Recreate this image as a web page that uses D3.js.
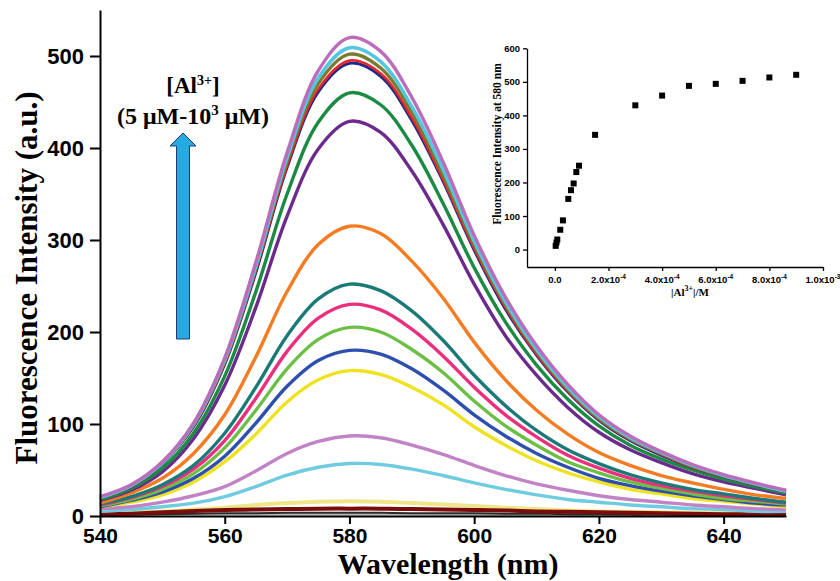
<!DOCTYPE html>
<html><head><meta charset="utf-8">
<script src="https://cdn.jsdelivr.net/npm/d3@7/dist/d3.min.js"></script>
<style>
html,body{margin:0;padding:0;background:#fff;}
svg{display:block;}
</style></head>
<body>
<svg id="chart" width="840" height="581"></svg>
<script>
// ---------- main chart data ----------
const wavelengths = [540,545,550,555,560,565,570,575,580,585,590,595,600,605,610,615,620,625,630,635,640,645,650];

const s520 = [21,34,59,101,172,276,395,484,520,505,455,385,305,238,185,143,110,87,70,56,45,36,28];
const s509 = [20,33,58,100,170,272,390,476,509,494,445,377,299,233,181,140,108,85,69,55,44,35,27];
const s502 = [20,33,58,99,168,270,386,470,502,487,439,371,295,230,179,138,106,84,68,54,44,35,27];
const s495 = [20,32,57,98,166,267,381,464,495,481,433,366,291,227,176,136,105,83,67,53,43,34,27];
const s492 = [20,32,57,97,165,265,379,461,492,478,430,364,289,225,175,135,104,82,66,53,43,34,27];
const s460 = [18,30,52,90,152,244,350,428,460,447,403,340,270,211,164,127,98,77,62,50,40,32,25];
const s429 = [17,28,48,84,142,227,326,399,429,417,375,317,252,196,153,118,91,72,58,46,37,30,23];
const s315 = [14,25,41,68,110,173,244,295,315,307,277,237,189,148,115,89,69,55,44,36,29,23,19];
const s252 = [13,21,34,55,90,140,196,236,252,245,223,191,153,120,93,72,57,45,36,29,24,19,15];
const s230 = [12,20,32,51,82,128,179,215,230,224,203,174,140,110,86,66,52,41,33,27,22,18,14];
const s205 = [11,18,29,46,74,115,160,192,205,200,181,156,125,98,77,59,47,37,30,24,19,16,13];
const s180 = [10,17,26,41,65,101,141,169,180,176,160,137,110,87,68,53,41,33,27,22,18,14,12];
const s158 = [10,15,23,37,59,89,124,148,158,154,140,121,97,77,60,47,37,29,24,19,16,13,10];
const s87  = [8,10,15,22,32,49,68,81,87,85,77,67,55,44,35,28,22,18,15,12,10,8,7];
const s57  = [5,7,10,14,21,32,44.5,53,57,56,51,44,36,29,23,18,15,12,10,8,7,5,5];
const s15  = [3,4,5,7,9,12,14,15.5,16,15.5,14,12.5,11,9,7.5,6,5,4.5,4,3.5,3,2.5,2.5];
const s8   = [1.5,2.5,4,5.5,6.5,7,7.5,8,8,8,7.5,7,6.5,6,5,4.5,4,3.5,3,2.5,2,2,1.5];
const s3   = [1,1.5,2,2.5,3,3,3.5,3.5,3.5,3.5,3,3,3,2.5,2.5,2,2,1.5,1.5,1,1,1,1];
const s1   = [2,1.5,1.5,1.5,1.5,1.5,1.5,1.5,1.5,1.5,1.5,1.2,1,1,1,1,1,1,1,1,1,1,1];

// drawing order (bottom first) and colours
const spectra = [s1, s3, s15, s8, s57, s87, s158, s180, s205, s230, s252, s315, s429, s460, s492, s495, s502, s509, s520];
const spectrumColors = ["#b8b8b8","#2a2a2a","#efe68a","#7a0c0c","#6fcbe0","#c283c6","#efe21f","#2f4fae","#6cbf45","#ec2f7c","#1b7a78","#f57c22","#6b2a8c","#1b8a42","#1f2a86","#e8252c","#7c7a2c","#55c6e0","#bb6cbb"];
const spectrumWidths = [2,2,4,4,3.4,3.4,3.4,3.4,3.4,3.4,3.4,3.4,3.4,3.4,3,2.6,3.4,3.6,3.4];

const yTicksMain = [0,100,200,300,400,500];
const xTicksMain = [540,560,580,600,620,640];

// ---------- inset data ----------
const insetConc = [3e-6,6e-6,9e-6,2e-5,3e-5,5e-5,6e-5,7e-5,8e-5,9e-5,1.5e-4,3e-4,4e-4,5e-4,6e-4,7e-4,8e-4,9e-4];
const insetIntensity = [11,21,30,59,87,151,177,197,231,250,342,430,459,488,494,503,513,521];
const insetYTicks = [0,100,200,300,400,500,600];
const insetXTicks = [0,2e-4,4e-4,6e-4,8e-4,1e-3];
const insetXLabels = [["0.0",""],["2.0x10","-4"],["4.0x10","-4"],["6.0x10","-4"],["8.0x10","-4"],["1.0x10","-3"]];

// ---------- drawing ----------
const svg = d3.select("#chart");
const sans = "'Liberation Sans', Arial, sans-serif";
const serif = "'Liberation Serif', 'Times New Roman', serif";

const x = d3.scaleLinear().domain([540,650]).range([100,786]);
const y = d3.scaleLinear().domain([0,550]).range([516,10]);

const line = d3.line()
  .x((d,i)=>x(wavelengths[i]))
  .y(d=>y(d))
  .curve(d3.curveCatmullRom.alpha(0.5));

const gLines = svg.append("g");
spectra.forEach((s,i)=>{
  gLines.append("path").attr("d", line(s))
    .attr("fill","none")
    .attr("stroke", spectrumColors[i])
    .attr("stroke-width", spectrumWidths[i])
    .attr("stroke-linejoin","round");
});

// main axes
const yAxis = d3.axisLeft(y).tickValues(yTicksMain).tickSize(10).tickPadding(6).tickSizeOuter(0);
const gy = svg.append("g").attr("transform","translate(100,0)").call(yAxis);
gy.select(".domain").attr("stroke","#000").attr("stroke-width",2);
gy.selectAll(".tick line").attr("stroke","#000").attr("stroke-width",2);
gy.selectAll(".tick text").attr("font-family",sans).attr("font-weight","bold").attr("font-size",22).attr("fill","#000");

const xAxis = d3.axisBottom(x).tickValues(xTicksMain).tickSize(8).tickPadding(4).tickSizeOuter(0);
const gx = svg.append("g").attr("transform","translate(0,516)").call(xAxis);
gx.select(".domain").attr("stroke","#000").attr("stroke-width",2);
gx.selectAll(".tick line").attr("stroke","#000").attr("stroke-width",2);
gx.selectAll(".tick text").attr("font-family",sans).attr("font-weight","bold").attr("font-size",21).attr("fill","#000");

svg.append("text").attr("x",448).attr("y",574).attr("text-anchor","middle")
  .attr("font-family",serif).attr("font-weight","bold").attr("font-size",30)
  .text("Wavelength (nm)");

svg.append("text").attr("transform","translate(37,278) rotate(-90)").attr("text-anchor","middle")
  .attr("font-family",serif).attr("font-weight","bold").attr("font-size",31)
  .text("Fluorescence Intensity (a.u.)");

// annotation
const t1 = svg.append("text").attr("x",193).attr("y",93).attr("text-anchor","middle")
  .attr("font-family",serif).attr("font-weight","bold").attr("font-size",23);
t1.append("tspan").text("[Al");
t1.append("tspan").attr("dy",-8).attr("font-size",14).text("3+");
t1.append("tspan").attr("dy",8).text("]");

const t2 = svg.append("text").attr("x",193).attr("y",124).attr("text-anchor","middle")
  .attr("font-family",serif).attr("font-weight","bold").attr("font-size",24);
t2.append("tspan").text("(5 μM-10");
t2.append("tspan").attr("dy",-9).attr("font-size",15).text("3");
t2.append("tspan").attr("dy",9).text(" μM)");

svg.append("path")
  .attr("d","M176.5,339 L176.5,146 L170,146 L183,133 L196,146 L189.5,146 L189.5,339 Z")
  .attr("fill","#29a9e1").attr("stroke","#1d3f6e").attr("stroke-width",1);

// ---------- inset ----------
const ix = d3.scaleLinear().domain([-1.04e-4,1e-3]).range([527,823]);
const iy = d3.scaleLinear().domain([-52,600]).range([267,48.3]);

const giy = svg.append("g").attr("transform","translate(527,0)")
  .call(d3.axisLeft(iy).tickValues(insetYTicks).tickSize(4).tickPadding(3).tickSizeOuter(0));
giy.select(".domain").attr("stroke","#000").attr("stroke-width",1.3);
giy.selectAll(".tick line").attr("stroke","#000").attr("stroke-width",1.3);
giy.selectAll(".tick text").attr("font-family",sans).attr("font-weight","bold").attr("font-size",9.5).attr("fill","#000");

const gix = svg.append("g").attr("transform","translate(0,267)")
  .call(d3.axisBottom(ix).tickValues(insetXTicks).tickSize(4).tickFormat(()=>"").tickSizeOuter(0));
gix.select(".domain").attr("stroke","#000").attr("stroke-width",1.3);
gix.selectAll(".tick line").attr("stroke","#000").attr("stroke-width",1.3);

insetXTicks.forEach((v,i)=>{
  const t = svg.append("text").attr("x",ix(v)).attr("y",283).attr("text-anchor","middle")
    .attr("font-family",sans).attr("font-weight","bold").attr("font-size",9.5).attr("fill","#000");
  t.append("tspan").text(insetXLabels[i][0]);
  if (insetXLabels[i][1]) t.append("tspan").attr("dy",-4).attr("font-size",6.5).text(insetXLabels[i][1]);
});

const it = svg.append("text").attr("x",690).attr("y",296).attr("text-anchor","middle")
  .attr("font-family",serif).attr("font-weight","bold").attr("font-size",11);
it.append("tspan").text("|Al");
it.append("tspan").attr("dy",-5).attr("font-size",8).text("3+");
it.append("tspan").attr("dy",5).text("|/M");

svg.append("text").attr("transform","translate(501,144) rotate(-90)").attr("text-anchor","middle")
  .attr("font-family",serif).attr("font-weight","bold").attr("font-size",11.5)
  .text("Fluorescence Intensity at 580 nm");

svg.append("g").selectAll("rect").data(insetConc).join("rect")
  .attr("x",(d)=>ix(d)-3).attr("y",(d,i)=>iy(insetIntensity[i])-3)
  .attr("width",6).attr("height",6).attr("fill","#000");
</script>
</body></html>
